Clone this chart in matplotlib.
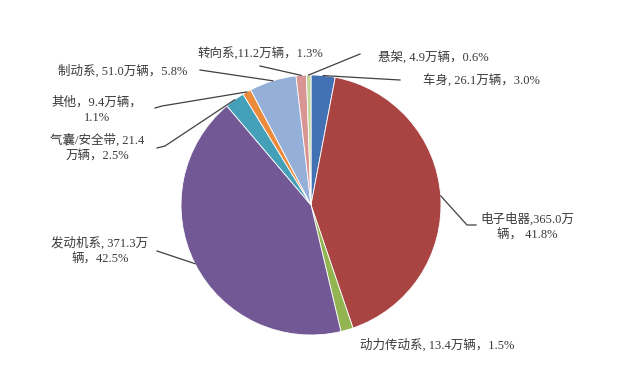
import numpy as np
import matplotlib
matplotlib.use("Agg")
import matplotlib.pyplot as plt

# 各系统召回数量（万辆），按饼图顺时针顺序（从12点方向开始）
names = ['车身', '电子电器', '动力传动系', '发动机系', '气囊/安全带',
         '其他', '制动系', '转向系', '悬架']
values = [26.1, 365.0, 13.4, 371.3, 21.4, 9.4, 51.0, 11.2, 4.9]
pcts = [3.0, 41.8, 1.5, 42.5, 2.5, 1.1, 5.8, 1.3, 0.6]
label_texts = [
    '车身, 26.1万辆，3.0%',
    '电子电器,365.0万\n辆， 41.8%',
    '动力传动系, 13.4万辆，1.5%',
    '发动机系, 371.3万\n辆，42.5%',
    '气囊/安全带, 21.4\n万辆，2.5%',
    '其他，9.4万辆，\n1.1%',
    '制动系, 51.0万辆，5.8%',
    '转向系,11.2万辆，1.3%',
    '悬架, 4.9万辆，0.6%',
]
colors = ['#4272B4', '#A94442', '#92B552', '#735896', '#449FB8',
          '#EB8A3A', '#95B0D8', '#D89593', '#C3D69B']

W, H = 640, 382
fig = plt.figure(figsize=(W / 100, H / 100), dpi=100)
ax = fig.add_axes([0, 0, 1, 1])

cx, cy, r = 311, H - 205, 130
wedges, _ = ax.pie(values, colors=colors, startangle=90, counterclock=False,
                   center=(cx, cy), radius=r, frame=True,
                   wedgeprops=dict(linewidth=0.6, edgecolor='white'))
ax.set_xlim(0, W)
ax.set_ylim(0, H)
ax.axis('off')

def py(y):
    return H - y

# 标签布局: (文字x, 文字y, 对齐, 引线端点列表 (像素坐标))
layout = [
    (423, 81, 'left', [(400, 80)]),
    (527, 227, 'center', [(467, 225), (476, 225)]),
    (360, 345, 'left', None),
    (100, 251, 'center', [(157, 251)]),
    (97, 148, 'center', [(165, 146), (157, 148)]),
    (97, 110, 'center', [(162, 106), (155, 108)]),
    (187, 71, 'right', [(200, 70)]),
    (260, 54, 'center', [(260, 66)]),
    (378, 57, 'left', [(360, 54)]),
]

font = ['Liberation Serif', 'Noto Sans CJK SC', 'DejaVu Sans']
txt_color = '#3a3a3a'

for w, txt, (tx, ty, ha, pts) in zip(wedges, label_texts, layout):
    ax.text(tx, py(ty), txt, ha=ha, va='center', fontsize=9,
            color=txt_color, family=font, linespacing=1.35)
    if pts:
        mid = np.deg2rad((w.theta1 + w.theta2) / 2)
        ex = cx + r * np.cos(mid)
        ey = cy + r * np.sin(mid)
        xs = [ex] + [p[0] for p in pts]
        ys = [ey] + [py(p[1]) for p in pts]
        ax.plot(xs, ys, color='#404040', linewidth=0.9)

fig.savefig('out.png', dpi=100, facecolor='white')
